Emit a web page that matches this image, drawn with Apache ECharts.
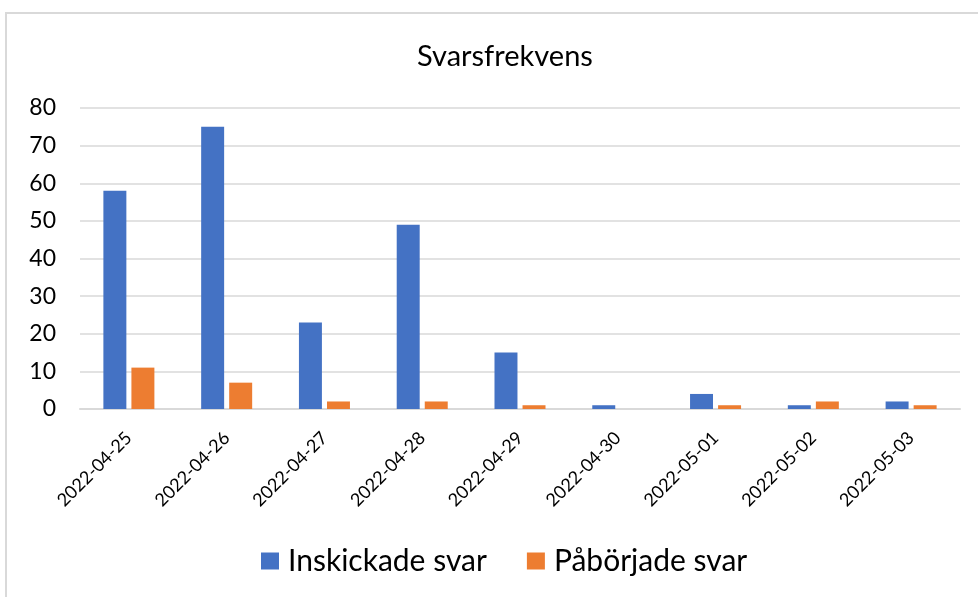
<!doctype html>
<html>
<head>
<meta charset="UTF-8">
<title>Svarsfrekvens</title>
<script src="https://cdn.jsdelivr.net/npm/echarts@6/dist/echarts.min.js"></script>
<style>
	html, body { margin: 0; padding: 0; background: #ffffff; }
	#frame {
		position: absolute;
		left: 5px;
		top: 12px;
		width: 990px;
		height: 600px;
		border: 2px solid #d9d9d9;
		box-sizing: border-box;
	}
	#chart { position: absolute; left: 0; top: 0; width: 978px; height: 597px; }
</style>
</head>
<body>
<div id="frame"></div>
<div id="chart"></div>
<script>
	var dates = ['2022-04-25', '2022-04-26', '2022-04-27', '2022-04-28', '2022-04-29', '2022-04-30', '2022-05-01', '2022-05-02', '2022-05-03'];
	var inskickade = [58, 75, 23, 49, 15, 1, 4, 1, 2];
	var paborjade = [11, 7, 2, 2, 1, 0, 1, 2, 1];

	var font = 'Lato';

	var chart = echarts.init(document.getElementById('chart'));
	var option = {
		animation: false,
		title: {
			text: 'Svarsfrekvens',
			left: 412,
			top: 37,
			textStyle: { fontFamily: font, fontSize: 29, fontWeight: 'normal', color: '#000000' }
		},
		legend: {
			bottom: 16,
			left: 256,
			itemWidth: 18,
			itemHeight: 17,
			itemGap: 40,
			icon: 'rect',
			textStyle: { fontFamily: font, fontSize: 30, color: '#000000', padding: [0, 0, 0, 4] },
			data: ['Inskickade svar', 'Påbörjade svar']
		},
		grid: { left: 80, right: 18, top: 108, bottom: 188 },
		xAxis: {
			type: 'category',
			data: dates,
			axisLine: { lineStyle: { color: '#d9d9d9', width: 2 } },
			axisTick: { show: false },
			axisLabel: {
				rotate: 45,
				interval: 0,
				margin: 26,
				fontFamily: font,
				fontSize: 18,
				color: '#000000'
			}
		},
		yAxis: {
			type: 'value',
			min: 0,
			max: 80,
			interval: 10,
			axisLine: { show: false },
			axisTick: { show: false },
			splitLine: { lineStyle: { color: '#d9d9d9', width: 1.5 } },
			axisLabel: { fontFamily: font, fontSize: 23, color: '#000000', margin: 24 }
		},
		series: [{
			name: 'Inskickade svar',
			type: 'bar',
			data: inskickade,
			barWidth: '23.5%',
			barGap: '22%',
			itemStyle: { color: '#4472c4' }
		}, {
			name: 'Påbörjade svar',
			type: 'bar',
			data: paborjade,
			barWidth: '23.5%',
			itemStyle: { color: '#ed7d31' }
		}]
	};
	chart.setOption(option);
</script>
</body>
</html>
